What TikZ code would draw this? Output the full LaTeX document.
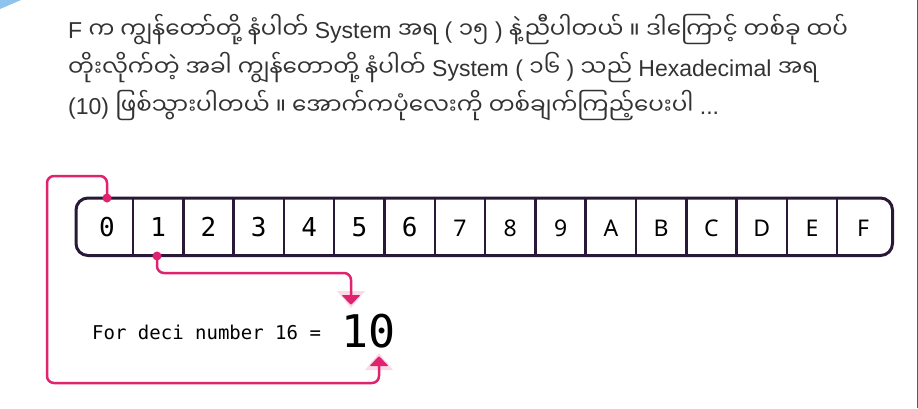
\documentclass[tikz,border=0pt]{standalone}
\usepackage{fontspec}
\setmainfont{Liberation Sans}
\newfontfamily\mm[Script=Myanmar]{Noto Sans Myanmar UI}
\newfontfamily\monof{DejaVu Sans Mono}
\newfontfamily\sansf{Noto Sans}
\usetikzlibrary{calc}
\newcommand{\MM}[1]{{\mm #1}}
\definecolor{pinkc}{HTML}{E0236E}
\definecolor{darkc}{HTML}{2A1838}
\definecolor{textc}{HTML}{333333}
\definecolor{bluec}{HTML}{8EC3EE}
\begin{document}
\begin{tikzpicture}[x=1pt,y=-1pt,
  para/.style={anchor=base west,inner sep=0pt,text=textc,font=\fontsize{23}{27}\selectfont},
  monolab/.style={anchor=base,inner sep=0pt,font=\monof\fontsize{26}{30}\selectfont},
  sanslab/.style={anchor=base,inner sep=0pt,font=\sansf\fontsize{23}{27}\selectfont},
  link/.style={draw=pinkc,line width=2.5pt,rounded corners=7pt},
  dotc/.style={circle,fill=pinkc,inner sep=0pt,minimum size=9pt}]
\useasboundingbox (0,0) rectangle (918,408);
\fill[white] (0,0) rectangle (918,408);
\fill[bluec] (0,0) -- (21,0) -- (0,9) -- cycle;
\draw[gray!70!black,line width=1pt] (917.5,0) -- (917.5,408);
% paragraph
\node[para] (l1) at (68,38) {F \MM{က ကျွန်တော်တို့ နံပါတ်} System \MM{အရ} ( \MM{၁၅} ) \MM{နဲ့ညီပါတယ် ။ ဒါကြောင့် တစ်ခု ထပ်}};
\node[para] (l2) at (68,76) {\MM{တိုးလိုက်တဲ့ အခါ ကျွန်တောတို့ နံပါတ်} System ( \MM{၁၆} ) \MM{သည်} Hexadecimal \MM{အရ}};
\node[para] (l3) at (68,114) {(10) \MM{ဖြစ်သွားပါတယ် ။ အောက်ကပုံလေးကို တစ်ချက်ကြည့်ပေးပါ} ...};
% strip
\draw[darkc,line width=3pt,rounded corners=12pt] (76,198) rectangle (892.5,255.5);
\foreach \k in {0,...,14}{
  \draw[darkc,line width=2.5pt] ({133+50.3*\k},198) -- ({133+50.3*\k},255.5);
}
\node[monolab] (c0) at (107,236) {0};
\foreach \k/\t in {1/1,2/2,3/3,4/4,5/5,6/6}{
  \node[monolab] (c\k) at ({158.2+50.3*(\k-1)},236) {\t};
}
\foreach \k/\t in {7/7,8/8,9/9,10/A,11/B,12/C,13/D,14/E}{
  \node[sanslab] (c\k) at ({158.2+50.3*(\k-1)},236) {\t};
}
\node[sanslab] (c15) at (863,236) {F};
% bottom text
\node[anchor=base west,inner sep=0pt,font=\monof\fontsize{19}{22}\selectfont] (lab) at (92,339) {For deci number 16 =};
\node[anchor=base west,inner sep=0pt,font=\monof\fontsize{45}{50}\selectfont] (ten) at (341,347) {10};
% dots
\node[dotc] (d0) at (107,198) {};
\node[dotc] (d1) at (157,256) {};
% coordinates
\coordinate (bA) at (351,295);
\coordinate (bB) at (379,366);
\coordinate (k1) at (47,176);
\coordinate (k2) at (47,383);
\coordinate (k3) at (351,273);
% glows
\foreach \o in {0.07,0.1}{
  \fill[pinkc,opacity=\o] (337,291) -- (365,291) -- (351,308) -- cycle;
  \fill[pinkc,opacity=\o] (365,370) -- (393,370) -- (379,353) -- cycle;
}
% links
\draw[link] (d0.center) |- (k1) -- (k2) -| (bB);
\draw[link] (d1.center) |- (k3) -- (bA);
% arrowheads
\fill[pinkc,rounded corners=1pt] ($(bA)+(-9.5,0)$) -- ($(bA)+(9.5,0)$) -- ($(bA)+(0,10)$) -- cycle;
\fill[pinkc,rounded corners=1pt] ($(bB)+(-9.5,0)$) -- ($(bB)+(9.5,0)$) -- ($(bB)+(0,-10)$) -- cycle;
\end{tikzpicture}
\end{document}
